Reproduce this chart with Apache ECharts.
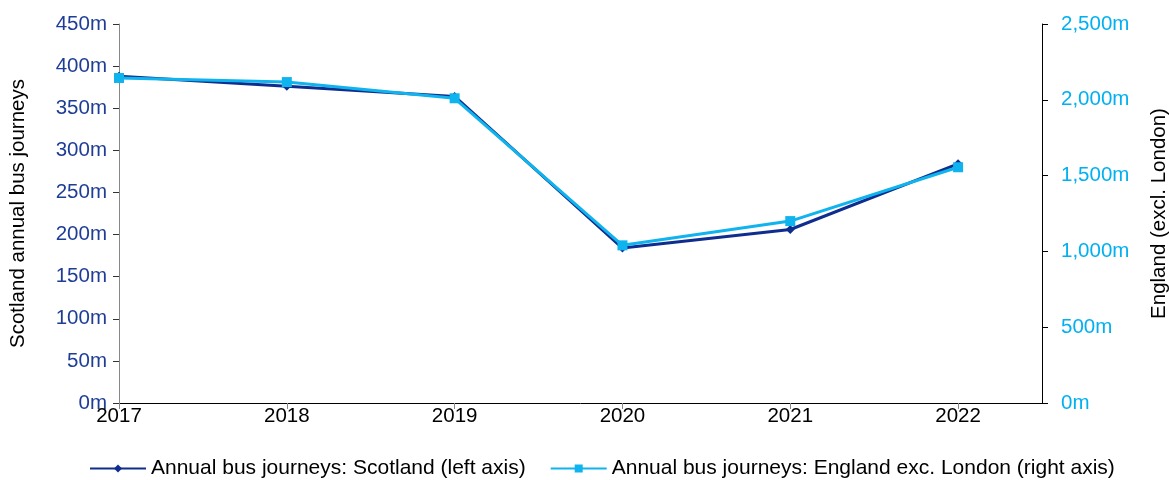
<!DOCTYPE html>
<html><head><meta charset="utf-8">
<script src="https://cdn.jsdelivr.net/npm/echarts@6/dist/echarts.min.js"></script>
<style>html,body{margin:0;padding:0;background:#fff}#c{width:1169px;height:480px}</style>
</head><body><div id="c"></div>
<script>
const years = [2017, 2018, 2019, 2020, 2021, 2022];
const scotland = [388, 376, 364, 184, 206, 284];
const england = [2144, 2117, 2010, 1040, 1200, 1555];
const seriesNames = ['Annual bus journeys: Scotland (left axis)', 'Annual bus journeys: England exc. London (right axis)'];
const font = 'Liberation Sans, Arial, sans-serif';
const fs = 20.5;
const chart = echarts.init(document.getElementById('c'));
chart.setOption({
  animation: false,
  grid: {left: 119, right: 127, top: 24, bottom: 77, containLabel: false, outerBoundsMode: 'none'},
  legend: {top: 453, left: 84, itemWidth: 56, itemHeight: 10, itemGap: 24,
    textStyle: {fontFamily: font, fontSize: 21, color: '#000'},
    data: seriesNames},
  xAxis: {type: 'value', min: 2017, max: 2022.5, interval: 1,
    axisLine: {lineStyle: {color: '#000', width: 1}},
    axisTick: {show: true, length: 6, lineStyle: {color: '#888'}, customValues: years},
    splitLine: {show: false},
    axisLabel: {fontFamily: font, fontSize: fs, color: '#000', margin: 3, customValues: years,
      formatter: v => String(v)}},
  yAxis: [{type: 'value', min: 0, max: 450, interval: 50, position: 'left',
    name: 'Scotland annual bus journeys', nameLocation: 'middle', nameGap: 90, nameRotate: 90,
    nameTextStyle: {fontFamily: font, fontSize: fs, color: '#000'},
    axisLine: {show: true, lineStyle: {color: '#888'}},
    axisTick: {show: true, length: 6, lineStyle: {color: '#333'}},
    splitLine: {show: false},
    axisLabel: {fontFamily: font, fontSize: fs, color: '#1E3D96', margin: 12, formatter: v => v + 'm'}},
   {type: 'value', min: 0, max: 2500, interval: 500, position: 'right',
    name: 'England (excl. London)', nameLocation: 'middle', nameGap: 107, nameRotate: 90,
    nameTextStyle: {fontFamily: font, fontSize: fs, color: '#000'},
    axisLine: {show: true, lineStyle: {color: '#000'}},
    axisTick: {show: true, length: 6, lineStyle: {color: '#000'}},
    splitLine: {show: false},
    axisLabel: {fontFamily: font, fontSize: fs, color: '#00B0F0', margin: 19,
      formatter: v => v.toLocaleString('en-US') + 'm'}}],
  series: [
    {name: seriesNames[0], type: 'line', yAxisIndex: 0,
     data: years.map((y, i) => [y, scotland[i]]),
     symbol: 'diamond', symbolSize: 9,
     lineStyle: {color: '#0E2D8E', width: 3}, itemStyle: {color: '#0E2D8E'}, z: 2},
    {name: seriesNames[1], type: 'line', yAxisIndex: 1,
     data: years.map((y, i) => [y, england[i]]),
     symbol: 'rect', symbolSize: 10,
     lineStyle: {color: '#0FB4EE', width: 3}, itemStyle: {color: '#0FB4EE'}, z: 3}
  ]
});
</script></body></html>
